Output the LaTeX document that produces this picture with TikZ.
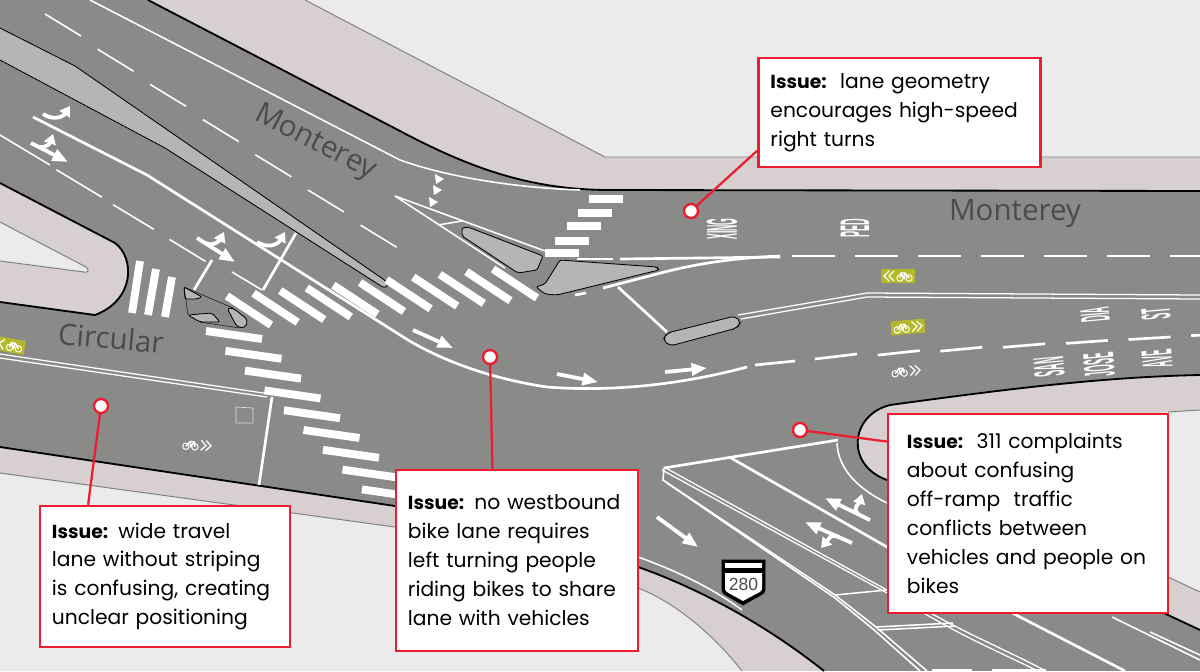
\documentclass[tikz,border=0pt]{standalone}
\usepackage{fontspec}
\setmainfont{Poppins}
\newfontfamily\roadfont{Open Sans}
\newfontfamily\paintfont{Liberation Sans}
\usetikzlibrary{arrows.meta}
\definecolor{roadgray}{HTML}{8A8A88}
\definecolor{walkpink}{HTML}{D8D0D0}
\definecolor{lotlight}{HTML}{ECEBEB}
\definecolor{islandgray}{HTML}{B5B5B3}
\definecolor{issuered}{HTML}{ED1C2E}
\definecolor{bikegreen}{HTML}{B5B82A}
\definecolor{labelgray}{HTML}{4A4C50}
\tikzset{
  curbline/.style={black,line width=1.3pt},
  backline/.style={black!50,line width=0.7pt},
  thinpaint/.style={white,line width=0.9pt},
  lanepaint/.style={white,line width=1.1pt},
  thickpaint/.style={white,line width=1.9pt},
  crossbar/.style={white,line width=5.6pt},
  island/.style={fill=islandgray,draw=black,line width=0.6pt,rounded corners=1.5pt},
  arrowpaint/.style={white,line width=2.7pt,-{Triangle[length=11pt,width=8.5pt]}},
  turnpaint/.style={white,line width=2.7pt,-{Triangle[length=7pt,width=8.5pt]}},
  roadname/.style={labelgray,font=\roadfont\fontsize{21}{21}\selectfont},
  stencil/.style={white,inner sep=0pt,transform shape,font=\paintfont\bfseries\fontsize{14}{14}\selectfont},
  issuebox/.style={draw=issuered,fill=white,line width=1.7pt,align=left,inner ysep=0pt,font=\fontsize{14.4}{20.6}\selectfont},
  issuedot/.style={circle,draw=issuered,fill=white,line width=1.7pt,inner sep=0pt,minimum size=10pt},
  issueline/.style={issuered,line width=1.6pt},
}
\newcommand{\issuehead}{{\fontsize{13.4}{20.6}\selectfont\bfseries Issue:}}
\newcommand{\bikemark}[5]{%
\begin{scope}[shift={(#1,#2)},rotate=#3,xscale=#4]
\path[#5] (-17,-7) rectangle (17,7);
\draw[white,line width=0.9pt] (4,-5)--(9,0)--(4,5);
\draw[white,line width=0.9pt] (9,-5)--(14,0)--(9,5);
\draw[white,line width=0.7pt] (-11,2) circle (3.2);
\draw[white,line width=0.7pt] (-2,2) circle (3.2);
\draw[white,line width=1pt] (-11,2)--(-7,-3)--(-3,-3)--(-2,2);
\draw[white,line width=1pt] (-7,-3)--(-6,2)--(-3,-3);
\end{scope}}
\begin{document}
\begin{tikzpicture}[x=0.025cm,y=-0.025cm]
\useasboundingbox (0,0) rectangle (1200,671);
\fill[roadgray] (0,0) rectangle (1200,671);
% sidewalks
\fill[walkpink] (148,0)--(400,131) .. controls (470,168) and (530,190) .. (610,190)--(1200,191)--(1200,0)--cycle;
\fill[lotlight] (305,0)--(605,157)--(1200,157)--(1200,0)--cycle;
\draw[backline] (305,0)--(605,157)--(1200,157);
\draw[curbline] (148,0)--(400,131) .. controls (470,168) and (530,190) .. (610,190)--(1200,191);
\fill[walkpink] (0,183)--(115,243) .. controls (135,258) and (135,300) .. (95,315)--(0,302)--cycle;
\fill[lotlight] (0,222)--(86,267) .. controls (90,270) and (88,273) .. (84,272)--(0,261)--cycle;
\draw[backline] (0,222)--(86,267) .. controls (90,270) and (88,273) .. (84,272)--(0,261);
\draw[curbline] (0,183)--(115,243) .. controls (135,258) and (135,300) .. (95,315)--(0,302);
\fill[walkpink] (0,447)--(395,506)--(638,567) .. controls (690,585) and (760,620) .. (824,671)--(0,671)--cycle;
\fill[lotlight] (0,473)--(395,527)--(638,588) .. controls (670,600) and (710,630) .. (742,671)--(0,671)--cycle;
\draw[backline] (0,473)--(395,527)--(638,588) .. controls (670,600) and (710,630) .. (742,671);
\draw[curbline] (0,447)--(395,506)--(638,567) .. controls (690,585) and (760,620) .. (824,671);
\fill[walkpink] (1200,375) .. controls (1100,377) and (1000,390) .. (890,405) .. controls (850,415) and (845,465) .. (887,480)--(1168,615)--(1200,630)--cycle;
\fill[lotlight] (1000,425)--(1200,410)--(1200,592)--(1000,500)--cycle;
\draw[backline] (1168,412)--(1200,410);
\draw[backline] (1168,577)--(1200,592);
\draw[curbline] (1200,375) .. controls (1100,377) and (1000,390) .. (890,405) .. controls (850,415) and (845,465) .. (887,480)--(1168,615)--(1200,630);
% medians
\draw[fill=islandgray,draw=black,line width=0.6pt] (0,28)--(75,66)--(383,279) .. controls (390,284) and (388,290) .. (381,286)--(165,148)--(0,60);
\path[island] (462,228)--(468,227)--(543,256)--(537,270)--(518,273)--(462,236)--cycle;
\path[island] (560,260)--(657,267)--(659,270)--(557,295)--(545,294)--(536,287)--(545,284)--cycle;
\path[island,rounded corners=3pt] (667,333)--(735,316)--(741,322)--(737,328)--(670,346)--(663,340)--cycle;
\path[island] (184,287)--(202,297)--(197,299)--(185,299)--cycle;
\path[island] (188,315)--(212,313)--(220,322)--(200,322)--cycle;
\path[island,rounded corners=2.5pt] (227,308)--(233,308)--(248,320)--(245,328)--(237,327)--cycle;
\draw[black,line width=0.3pt] (184,287)--(233,308);
\draw[black,line width=0.3pt] (184,287)--(188,315);
\draw[black,line width=0.3pt] (200,322)--(240,328);
% lanes
\draw[lanepaint] (90,0)--(400,160) .. controls (450,178) and (520,188) .. (580,190);
\foreach \i in {0,...,6} \draw[lanepaint] (45+52.6*\i,14+35.2*\i)--(81+52.6*\i,36+35.2*\i);
\foreach \i in {0,...,3} \draw[lanepaint] (0+56.5*\i,135+34.8*\i)--(50+56.5*\i-14*\i/3,165+34.8*\i-8*\i/3);
\draw[lanepaint] (232,272)--(262,290);
\draw[thickpaint] (33,117)--(147,175)--(408,340) .. controls (450,365) and (500,380) .. (547,387) .. controls (610,392) and (680,385) .. (747,367);
\foreach \i in {0,...,6} \draw[thickpaint] (815+62.7*\i,359-3.9*\i)--(857+62.7*\i,354-3.4*\i);
\draw[thickpaint] (755,365)--(795,361);
\foreach \i in {0,...,5} \draw[thickpaint] (792+63*\i,256)--(835+63*\i,256);
\draw[thickpaint] (1170,256)--(1200,256);
\draw[thickpaint] (577,259)--(613,259);
\draw[thickpaint] (620,259)--(780,257);
\draw[thickpaint] (603,288)--(657,274) .. controls (690,265) and (730,258) .. (780,256);
\draw[thickpaint] (575,295)--(586,293);
\draw[thickpaint] (618,287)--(667,332);
\draw[thickpaint] (296,233)--(263,290);
\draw[thickpaint] (212,260)--(194,290);
\draw[thickpaint] (272,397)--(259,485);
\draw[lanepaint] (395,196)--(545,251);
\draw[lanepaint] (395,196)--(505,268);
\draw[lanepaint] (438,225)--(462,221);
\fill[white] (435,174)--(444,179)--(436,184)--cycle;
\fill[white] (433,185)--(442,190)--(434,195)--cycle;
\fill[white] (429,197)--(438,202)--(430,207)--cycle;
% double lines
\draw[thinpaint] (738,315)--(867,293)--(1200,295);
\draw[thinpaint] (741,319)--(867,297)--(1200,299);
\draw[thinpaint] (0,354)--(270,394);
\draw[thinpaint] (0,358)--(267,397);
\draw[white!70!roadgray,line width=0.5pt] (236,407)--(253,408)--(253,423)--(236,423)--cycle;
% ramp
\draw[thickpaint] (664,468)--(838,440);
\draw[thinpaint] (664,467)--(887,590)--(938,617) .. controls (970,635) and (1010,652) .. (1046,671);
\draw[thinpaint] (662,470)--(887,593)--(936,620) .. controls (965,637) and (1005,655) .. (1038,671);
\draw[thickpaint] (731,458)--(887,547)--(1020,617)--(1125,671);
\draw[lanepaint] (664,468)--(663,480)--(835,595)--(876,627)--(927,671);
\draw[lanepaint] (667,483)--(835,598)--(873,629)--(920,671);
\draw[lanepaint] (835,595)--(887,590);
\draw[lanepaint] (876,627)--(953,623);
\draw[lanepaint] (878,630)--(955,626);
\draw[lanepaint] (837,443) .. controls (838,470) and (860,490) .. (887,503);
\draw[lanepaint] (1112,617)--(1200,660);
\draw[lanepaint] (1150,632)--(1200,655);
\draw[thickpaint] (932,670)--(972,670);
\draw[thickpaint] (992,670)--(1046,670);
\draw[lanepaint] (638,557) .. controls (680,572) and (715,590) .. (742,610);
% crosswalks
\foreach \i in {0,...,10} \draw[crossbar] (227+26.6*\i,296-2.7*\i)--(271+26.6*\i,325-2.7*\i);
\foreach \i in {0,...,8} \draw[crossbar] (206+19.5*\i,331+19.8*\i)--(262+19.5*\i,339+19.8*\i);
\draw[crossbar] (140,261)--(132,313);
\draw[crossbar] (156,269)--(148,315);
\draw[crossbar] (172,277)--(165,317);
\foreach \x/\y in {589/199,578/213,567/226,555/241,545/253} \draw[crossbar,line width=5pt] (\x,\y)--(\x+34,\y);
% arrows
\draw[arrowpaint] (413,330)--(453,348);
\draw[arrowpaint] (557,374)--(598,382);
\draw[arrowpaint] (665,372)--(707,368);
\draw[arrowpaint] (657,517)--(698,547);
\draw[arrowpaint] (31,143)--(68,162);
\draw[turnpaint] (39,147) .. controls (47,148) and (50,143) .. (53,134);
\draw[arrowpaint] (197,238)--(235,262);
\draw[turnpaint] (205,243) .. controls (214,247) and (220,240) .. (224,232);
\draw[turnpaint] (43,114) .. controls (52,120) and (62,118) .. (70,106);
\draw[turnpaint] (257,242) .. controls (266,248) and (277,246) .. (285,232);
\draw[arrowpaint] (870,520)--(825,498);
\draw[turnpaint] (858,514) .. controls (852,507) and (859,504) .. (862,494);
\draw[arrowpaint] (852,543)--(805,522);
\draw[turnpaint] (840,538) .. controls (831,532) and (828,540) .. (821,548);
% bike marks
\bikemark{898}{276}{0}{-1}{fill=bikegreen}
\bikemark{908}{327}{5}{1}{fill=bikegreen}
\bikemark{906}{371}{4}{1}{}
\bikemark{8}{345}{-10}{-1}{fill=bikegreen}
\bikemark{197}{445}{-4}{1}{}
% pavement words
\node[stencil,rotate=90,xscale=.44,yscale=2.2] (wordXing) at (722,229) {XING};
\node[stencil,rotate=90,xscale=.46,yscale=2.1] (wordPed) at (855,228) {PED};
\node[stencil,rotate=95,xscale=.46,yscale=2.2] (wordSan) at (1049,367) {SAN};
\node[stencil,rotate=95,xscale=.44,yscale=2.2] (wordJose) at (1099,365) {JOSE};
\node[stencil,rotate=95,xscale=.44,yscale=2.2] (wordAve) at (1157,359) {AVE};
\node[stencil,rotate=95,xscale=.42,yscale=2.1] (wordDia) at (1095,315) {DIA};
\node[stencil,rotate=95,xscale=.46,yscale=2.1] (wordSt) at (1156,314) {ST};
% road names
\node[roadname,rotate=-27] (nameMontereyW) at (315,143) {Monterey};
\node[roadname] (nameMontereyE) at (1015,214) {Monterey};
\node[roadname,rotate=-5] (nameCircular) at (111,338) {Circular};
% shield
\draw[black,fill=black,line width=0.5pt] (722,560)--(765,560)--(765,590) .. controls (765,594) and (760,595) .. (743,605) .. controls (726,595) and (722,594) .. (722,590)--cycle;
\fill[white] (725,563)--(762,563)--(762,568)--(725,568)--cycle;
\fill[white] (725,573)--(762,573)--(762,589) .. controls (762,592) and (757,593) .. (743,601) .. controls (729,593) and (725,592) .. (725,589)--cycle;
\node[labelgray,inner sep=0pt,font=\paintfont\fontsize{12.5}{12.5}\selectfont] (shieldNum) at (743.5,584) {280};
% issues
\node[issuebox,minimum width=7.05cm,minimum height=2.725cm,text width=6.45cm] (boxTurn) at (899.5,112.5) {\issuehead\ \ lane geometry\\encourages high-speed\\right turns};
\node[issuebox,minimum width=7cm,minimum height=4.975cm,text width=6.05cm] (boxRamp) at (1028,513.5) {\issuehead\ \ 311 complaints\\about confusing\\off-ramp\ \ traffic\\conflicts between\\vehicles and people on\\bikes};
\node[issuebox,minimum width=6.05cm,minimum height=4.525cm,text width=5.45cm] (boxLane) at (517,560.5) {\issuehead{} no westbound\\bike lane requires\\left turning people\\riding bikes to share\\lane with vehicles};
\node[issuebox,minimum width=6.25cm,minimum height=3.525cm,text width=5.65cm] (boxWide) at (165,576.5) {\issuehead{} wide travel\\lane without striping\\is confusing, creating\\unclear positioning};
\node[issuedot] (dotTurn) at (691,211) {};
\node[issuedot] (dotRamp) at (800,430) {};
\node[issuedot] (dotLane) at (490,357) {};
\node[issuedot] (dotWide) at (101,406) {};
\draw[issueline] (dotTurn)--(boxTurn.195);
\draw[issueline] (dotRamp)--(boxRamp.153);
\draw[issueline] (dotLane)--(boxLane.105);
\draw[issueline] (dotWide)--(boxWide.137);
\end{tikzpicture}
\end{document}
